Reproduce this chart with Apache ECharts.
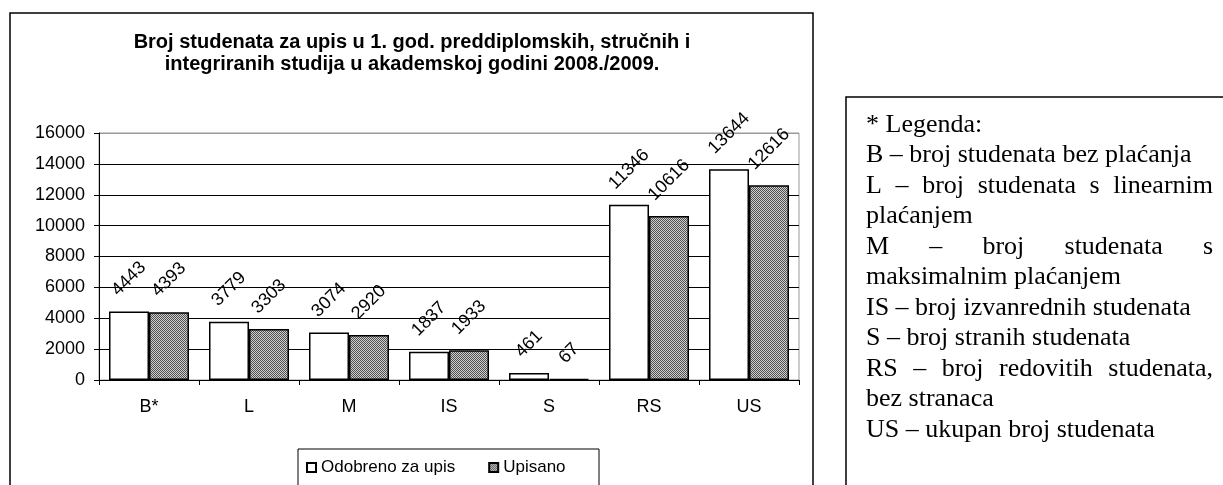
<!DOCTYPE html>
<html>
<head>
<meta charset="utf-8">
<script src="https://cdn.jsdelivr.net/npm/echarts@6/dist/echarts.min.js"></script>
<style>
    html, body { margin: 0; padding: 0; background: #fff; }
    #chart { width: 1223px; height: 485px; }
</style>
</head>
<body>
<div id="chart"></div>
<script>
    // podaci s grafa
    var categories = ['B*', 'L', 'M', 'IS', 'S', 'RS', 'US'];
    var odobreno = [4443, 3779, 3074, 1837, 461, 11346, 13644];
    var upisano = [4393, 3303, 2920, 1933, 67, 10616, 12616];
    var seriesNames = ['Odobreno za upis', 'Upisano'];
    var yMin = 0, yMax = 16000, yStep = 2000;
    var titleLines = [
        'Broj studenata za upis u 1. god. preddiplomskih, stručnih i',
        'integriranih studija u akademskoj godini 2008./2009.'
    ];
    var legendLines = [
        '* Legenda:',
        'B – broj studenata bez plaćanja',
        'L – broj studenata s linearnim',
        'plaćanjem',
        'M – broj studenata s',
        'maksimalnim plaćanjem',
        'IS – broj izvanrednih studenata',
        'S – broj stranih studenata',
        'RS – broj redovitih studenata,',
        'bez stranaca',
        'US – ukupan broj studenata'
    ];
    var justified = [false, false, true, false, true, false, false, false, true, false, false];

    var sansFont = 'Arial, "Liberation Sans", sans-serif';
    var serifFont = '"Times New Roman", "Liberation Serif", serif';
    var labelSize = 18;

    var measure = document.createElement('canvas').getContext('2d');
    function textWidth(t, font) {
        measure.font = font;
        return measure.measureText(t).width;
    }

    // sivi uzorak za "Upisano"
    var pat = document.createElement('canvas');
    pat.width = 2; pat.height = 2;
    var pc = pat.getContext('2d');
    pc.fillStyle = '#d0d0d0';
    pc.fillRect(0, 0, 2, 2);
    pc.fillStyle = '#505050';
    pc.fillRect(0, 0, 1, 1);
    pc.fillRect(1, 1, 1, 1);

    // rotirane oznake stoje centrirano iznad stupca
    function labelDist(v) {
        var w = textWidth(String(v), labelSize + 'px ' + sansFont);
        return 12 + (w + labelSize) / (2 * Math.SQRT2);
    }
    function toData(arr) {
        return arr.map(function (v) {
            return {value: v, label: {distance: labelDist(v)}};
        });
    }

    // legenda desno, poravnata kao u Wordu
    var legendX = 866, legendW = 347, legendTop = 125, legendStep = 30.5;
    var legendFont = '26px ' + serifFont;
    var graphics = [
        {type: 'rect', shape: {x: 10, y: 13, width: 803, height: 520},
            style: {fill: 'none', stroke: '#000', lineWidth: 1.5}},
        {type: 'rect', shape: {x: 846, y: 97, width: 420, height: 420},
            style: {fill: 'none', stroke: '#000', lineWidth: 1.5}},
        {type: 'rect', shape: {x: 298, y: 449, width: 301, height: 60},
            style: {fill: 'none', stroke: '#000', lineWidth: 1}},
        {type: 'text', x: 412, y: 31, style: {
            text: titleLines.join('\n'), font: 'bold 20px ' + sansFont,
            fill: '#000', align: 'center', verticalAlign: 'top', lineHeight: 22}}
    ];
    legendLines.forEach(function (line, i) {
        var y = legendTop + i * legendStep;
        if (!justified[i]) {
            graphics.push({type: 'text', x: legendX, y: y, style: {
                text: line, font: legendFont, fill: '#000', verticalAlign: 'middle'}});
            return;
        }
        var words = line.split(' ');
        var widths = words.map(function (w) { return textWidth(w, legendFont); });
        var sum = widths.reduce(function (a, b) { return a + b; }, 0);
        var gap = (legendW - sum) / (words.length - 1);
        var x = legendX;
        words.forEach(function (w, j) {
            graphics.push({type: 'text', x: x, y: y, style: {
                text: w, font: legendFont, fill: '#000', verticalAlign: 'middle'}});
            x += widths[j] + gap;
        });
    });

    var splitColors = [];
    for (var k = yMin; k <= yMax; k += yStep) {
        splitColors.push(k === yMax ? '#999' : '#000');
    }

    var barLabel = {
        show: true,
        position: 'top',
        rotate: 45,
        align: 'center',
        verticalAlign: 'middle',
        fontSize: labelSize,
        fontFamily: sansFont,
        color: '#000'
    };

    var chart = echarts.init(document.getElementById('chart'), null, {renderer: 'canvas'});
    chart.setOption({
        animation: false,
        backgroundColor: '#fff',
        grid: {
            left: 99, top: 133, width: 700, height: 247,
            show: true, borderColor: '#999', borderWidth: 1, backgroundColor: 'transparent'
        },
        legend: {
            data: seriesNames,
            left: 306, top: 459, padding: 0,
            icon: 'rect', itemWidth: 9, itemHeight: 9, itemGap: 33,
            textStyle: {fontSize: 17, fontFamily: sansFont, color: '#000'}
        },
        xAxis: {
            type: 'category',
            data: categories,
            axisLine: {lineStyle: {color: '#000', width: 1}},
            axisTick: {show: true, length: 5, lineStyle: {color: '#000'}},
            axisLabel: {fontSize: 18, fontFamily: sansFont, color: '#000', margin: 18}
        },
        yAxis: {
            type: 'value',
            min: yMin, max: yMax, interval: yStep,
            axisLine: {show: true, lineStyle: {color: '#000', width: 1}},
            axisTick: {show: true, length: 5, lineStyle: {color: '#000'}},
            axisLabel: {
                fontSize: 18, fontFamily: sansFont, color: '#000', margin: 14,
                formatter: function (v) { return String(v); }
            },
            splitLine: {show: true, lineStyle: {color: splitColors, width: 1}}
        },
        series: [
            {
                name: seriesNames[0],
                type: 'bar',
                barGap: 0,
                barCategoryGap: '20%',
                data: toData(odobreno),
                itemStyle: {color: '#fff', borderColor: '#000', borderWidth: 1.5},
                label: barLabel
            },
            {
                name: seriesNames[1],
                type: 'bar',
                barGap: 0,
                barCategoryGap: '20%',
                data: toData(upisano),
                itemStyle: {color: {image: pat, repeat: 'repeat'}, borderColor: '#000', borderWidth: 1.5},
                label: barLabel
            }
        ],
        graphic: graphics
    });
</script>
</body>
</html>
